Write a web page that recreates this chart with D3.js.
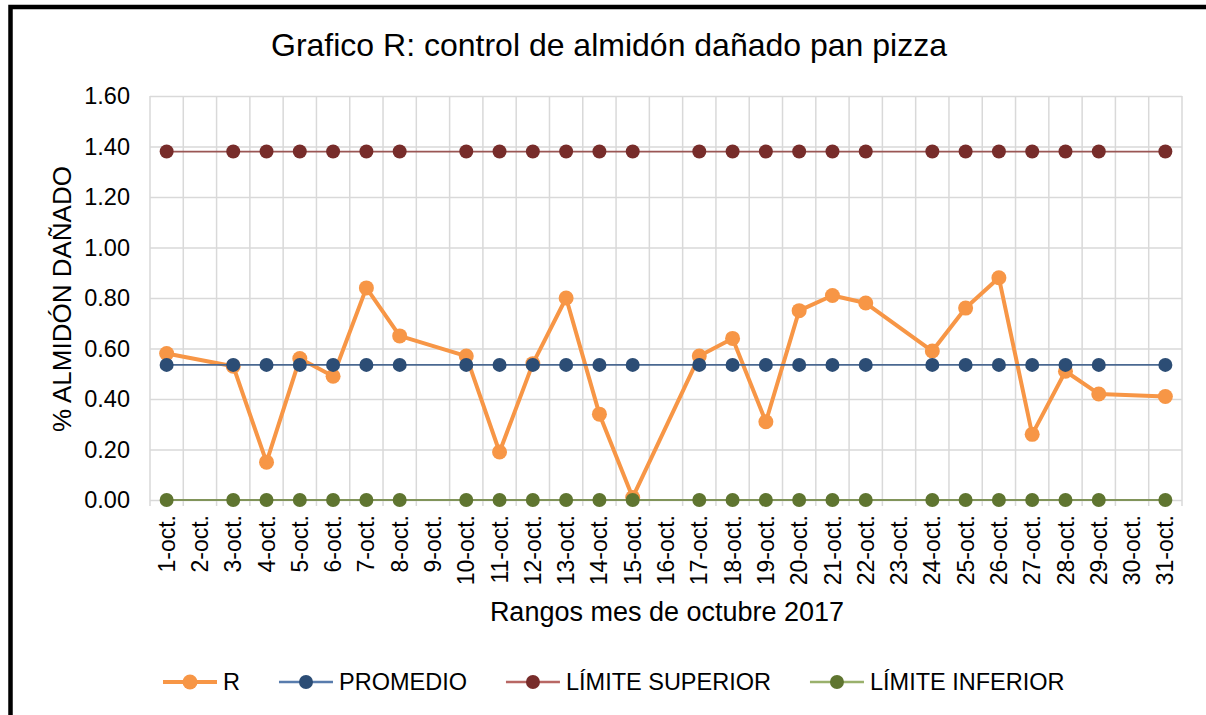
<!DOCTYPE html>
<html>
<head>
<meta charset="utf-8">
<script src="https://cdn.jsdelivr.net/npm/d3@7"></script>
<style>
	body { margin: 0; background: #fff; }
	svg { display: block; font-family: "Liberation Sans", Arial, sans-serif; }
</style>
</head>
<body>
<script>
var days = ["1-oct.", "2-oct.", "3-oct.", "4-oct.", "5-oct.", "6-oct.", "7-oct.", "8-oct.", "9-oct.", "10-oct.",
	"11-oct.", "12-oct.", "13-oct.", "14-oct.", "15-oct.", "16-oct.", "17-oct.", "18-oct.", "19-oct.", "20-oct.",
	"21-oct.", "22-oct.", "23-oct.", "24-oct.", "25-oct.", "26-oct.", "27-oct.", "28-oct.", "29-oct.", "30-oct.", "31-oct."]

// null = no measurement that day (Excel just joins the neighbours)
var rValues = [0.58, null, 0.53, 0.15, 0.56, 0.49, 0.84, 0.65, null, 0.57,
	0.19, 0.54, 0.80, 0.34, 0.01, null, 0.57, 0.64, 0.31, 0.75,
	0.81, 0.78, null, 0.59, 0.76, 0.88, 0.26, 0.51, 0.42, null, 0.41]
var promedio = [0.535, null, 0.535, 0.535, 0.535, 0.535, 0.535, 0.535, null, 0.535,
	0.535, 0.535, 0.535, 0.535, 0.535, null, 0.535, 0.535, 0.535, 0.535,
	0.535, 0.535, null, 0.535, 0.535, 0.535, 0.535, 0.535, 0.535, null, 0.535]
var limiteSuperior = [1.38, null, 1.38, 1.38, 1.38, 1.38, 1.38, 1.38, null, 1.38,
	1.38, 1.38, 1.38, 1.38, 1.38, null, 1.38, 1.38, 1.38, 1.38,
	1.38, 1.38, null, 1.38, 1.38, 1.38, 1.38, 1.38, 1.38, null, 1.38]
var limiteInferior = [0, null, 0, 0, 0, 0, 0, 0, null, 0,
	0, 0, 0, 0, 0, null, 0, 0, 0, 0,
	0, 0, null, 0, 0, 0, 0, 0, 0, null, 0]

var yTicks = [0, 0.2, 0.4, 0.6, 0.8, 1.0, 1.2, 1.4, 1.6]
var seriesNames = ["R", "PROMEDIO", "LÍMITE SUPERIOR", "LÍMITE INFERIOR"]

var title = "Grafico R: control de almidón dañado pan pizza"
var xTitle = "Rangos mes de octubre 2017"
var yTitle = "% ALMIDÓN DAÑADO"

function main() {
	var w = 1206
	var h = 715
	var left = 150
	var right = 1182
	var top = 96
	var bottom = 500

	var series = [
		{ name: seriesNames[0], values: rValues, color: "#F79646", line: "#F79646", width: 4, r: 7.5 },
		{ name: seriesNames[1], values: promedio, color: "#2C4D75", line: "#4A6891", width: 1.8, r: 7 },
		{ name: seriesNames[2], values: limiteSuperior, color: "#772C2A", line: "#9A5654", width: 1.8, r: 7 },
		{ name: seriesNames[3], values: limiteInferior, color: "#5F7530", line: "#81945A", width: 1.8, r: 7 }
	]

	var svg = d3.select("body")
		.append("svg")
		.attr("width", w)
		.attr("height", h)

	svg.append("rect")
		.attr("width", w)
		.attr("height", h)
		.attr("fill", "white")

	// chart border: only left and top edges are inside the picture
	svg.append("rect")
		.attr("x", 10.5)
		.attr("y", 7)
		.attr("width", w + 50)
		.attr("height", h + 50)
		.attr("fill", "none")
		.attr("stroke", "black")
		.attr("stroke-width", 4.5)

	// Scales
	var xScale = d3.scaleBand()
		.domain(days)
		.range([left, right])
		.padding(0)

	var yScale = d3.scaleLinear()
		.domain([0, 1.6])
		.range([bottom, top])

	var cx = (d) => xScale(d) + xScale.bandwidth() / 2

	// vertical gridlines between categories
	var bounds = days.map((d) => xScale(d)).concat([right])
	svg.append("g")
		.selectAll("line")
		.data(bounds)
		.enter()
		.append("line")
		.attr("x1", (d) => d)
		.attr("x2", (d) => d)
		.attr("y1", top)
		.attr("y2", bottom + 6)
		.attr("stroke", "#D9D9D9")
		.attr("stroke-width", 1.5)

	// Y axis with horizontal gridlines
	var yAxis = d3.axisLeft(yScale)
		.tickValues(yTicks)
		.tickFormat(d3.format(".2f"))
		.tickSize(-(right - left))
		.tickPadding(20)

	var gy = svg.append("g")
		.attr("class", "y axis")
		.attr("transform", "translate(" + left + ",0)")
		.call(yAxis)
	gy.select(".domain").remove()
	gy.selectAll("line")
		.attr("stroke", "#D9D9D9")
		.attr("stroke-width", 1.5)
	gy.selectAll("text")
		.attr("fill", "black")
		.style("font-size", "23.5px")

	// X axis labels, rotated
	var xAxis = d3.axisBottom(xScale).tickSize(0)
	var gx = svg.append("g")
		.attr("class", "x axis")
		.attr("transform", "translate(0," + bottom + ")")
		.call(xAxis)
	gx.select(".domain").remove()
	gx.selectAll("text")
		.attr("fill", "black")
		.style("font-size", "23px")
		.style("text-anchor", "end")
		.attr("transform", "rotate(-90)")
		.attr("x", -15)
		.attr("y", 0)
		.attr("dy", "0.35em")

	// Series
	series.forEach((s) => {
		var pts = days.map((d, i) => ({ day: d, v: s.values[i] })).filter((p) => p.v != null)
		var line = d3.line()
			.x((p) => cx(p.day))
			.y((p) => yScale(p.v))
		var g = svg.append("g")
		g.append("path")
			.datum(pts)
			.attr("d", line)
			.attr("fill", "none")
			.attr("stroke", s.line)
			.attr("stroke-width", s.width)
			.attr("stroke-linejoin", "round")
		g.selectAll("circle")
			.data(pts)
			.enter()
			.append("circle")
			.attr("cx", (p) => cx(p.day))
			.attr("cy", (p) => yScale(p.v))
			.attr("r", s.r)
			.attr("fill", s.color)
	})

	// Titles
	svg.append("text")
		.attr("x", 609)
		.attr("y", 56)
		.style("text-anchor", "middle")
		.style("font-size", "32px")
		.text(title)

	svg.append("text")
		.attr("x", 667)
		.attr("y", 621)
		.style("text-anchor", "middle")
		.style("font-size", "27px")
		.text(xTitle)

	svg.append("text")
		.attr("transform", "translate(71," + 299 + ") rotate(-90)")
		.style("text-anchor", "middle")
		.style("font-size", "26px")
		.text(yTitle)

	// Legend
	var legend = svg.append("g")
	var lx = 163
	var ly = 682
	series.forEach((s) => {
		var item = legend.append("g").attr("transform", "translate(" + lx + "," + ly + ")")
		item.append("line")
			.attr("x1", 0)
			.attr("x2", 54)
			.attr("stroke", s.name == "R" ? s.line : d3.color(s.line).brighter(0.5))
			.attr("stroke-width", s.name == "R" ? 4 : 2.5)
		item.append("circle")
			.attr("cx", 27)
			.attr("r", s.r)
			.attr("fill", s.color)
		var t = item.append("text")
			.attr("x", 60)
			.attr("dy", "0.36em")
			.style("font-size", "23.5px")
			.text(s.name)
		lx += 60 + t.node().getComputedTextLength() + 39
	})
}

main()
</script>
</body>
</html>
